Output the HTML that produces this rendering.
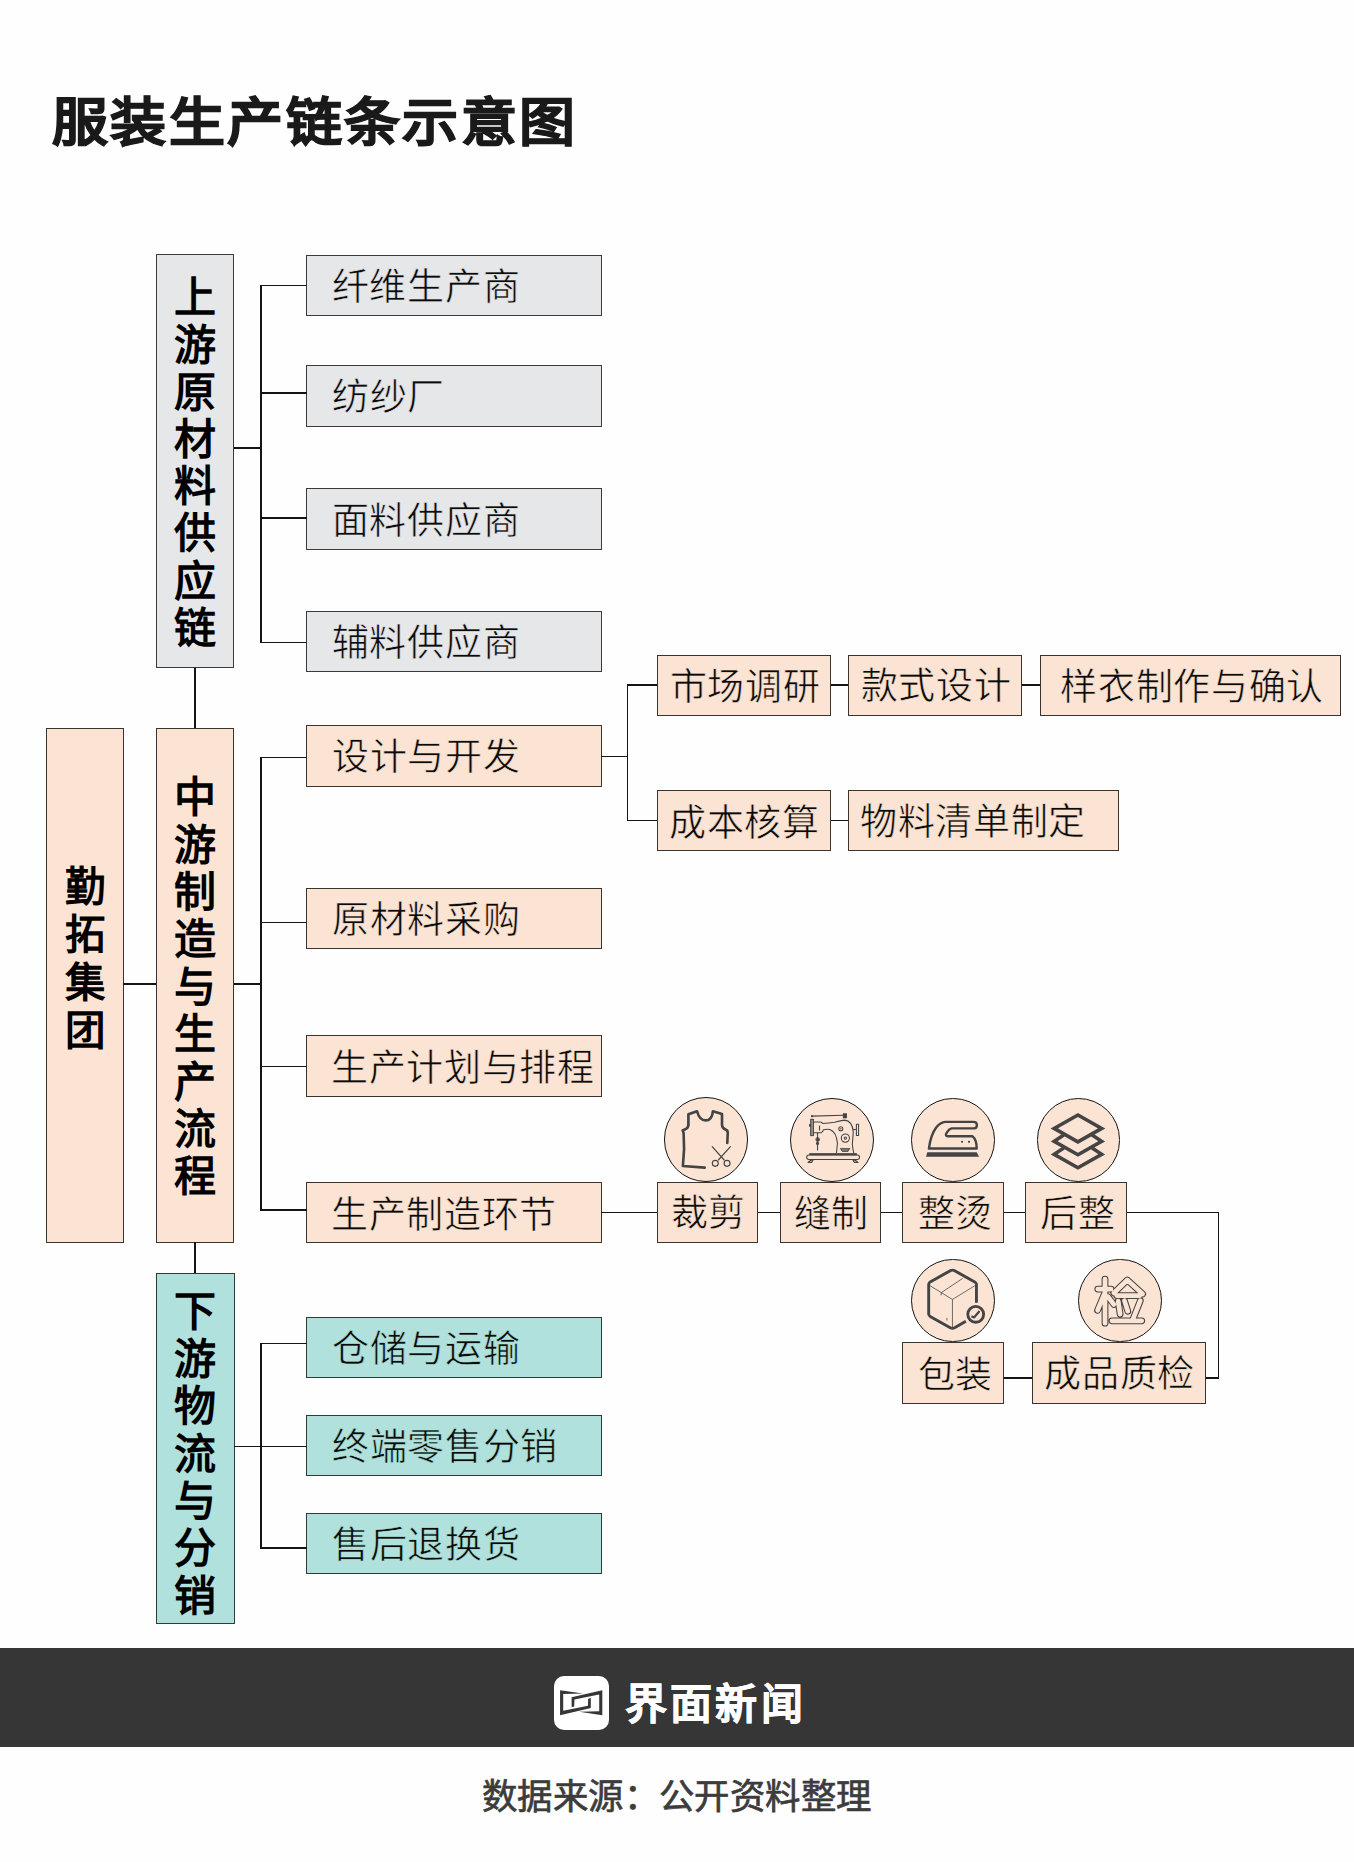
<!DOCTYPE html>
<html lang="zh-CN">
<head>
<meta charset="utf-8">
<style>
html,body{margin:0;padding:0;}
body{width:1354px;height:1862px;background:#fefefe;position:relative;overflow:hidden;font-family:"Liberation Sans",sans-serif;}
.bx{position:absolute;box-sizing:border-box;border:1.3px solid #3a3a3a;}
.ln{position:absolute;}
.title{position:absolute;white-space:nowrap;font-weight:700;line-height:80px;letter-spacing:2.4px;color:#1a1a1a;-webkit-text-stroke:1.1px #1a1a1a;transform:scaleY(0.942);transform-origin:0 67px;}
.it{position:absolute;white-space:nowrap;font-weight:400;line-height:60px;color:#0a0a0a;}
.vt{position:absolute;width:80px;text-align:center;font-weight:700;white-space:nowrap;}
.ci{position:absolute;box-sizing:border-box;border:1.4px solid #141414;border-radius:50%;background:#fce4d4;}
.ic{position:absolute;overflow:visible;}
.ban{position:absolute;left:0;top:1647.7px;width:1354px;height:99.8px;background:#363636;}
.logo{position:absolute;left:554.1px;top:1675.5px;width:54.5px;height:54.5px;background:#fff;border-radius:10px;}
.brand{position:absolute;white-space:nowrap;font-weight:700;line-height:60px;color:#fff;-webkit-text-stroke:0.6px #fff;}
.foot{position:absolute;white-space:nowrap;font-weight:400;line-height:50px;letter-spacing:0.4px;color:#3c3c3c;-webkit-text-stroke:0.7px #3c3c3c;}
</style>
</head>
<body>
<div id="title" class="title" style="left:52.00px;top:82.00px;font-size:56.00px;">服装生产链条示意图</div>
<div class="bx" style="left:155.80px;top:254.40px;width:78.40px;height:413.70px;background:#e6e7e9;border-color:#3a3a3a;"></div>
<div id="v_up" class="vt" style="left:155.00px;top:274.36px;font-size:42.00px;line-height:47.2px;color:#000;">上<br>游<br>原<br>材<br>料<br>供<br>应<br>链</div>
<div class="bx" style="left:306.40px;top:254.50px;width:295.20px;height:61.50px;background:#e6e7e9;border-color:#3a3a3a;"></div>
<div class="bx" style="left:306.40px;top:364.90px;width:295.20px;height:61.70px;background:#e6e7e9;border-color:#3a3a3a;"></div>
<div class="bx" style="left:306.40px;top:487.70px;width:295.20px;height:61.90px;background:#e6e7e9;border-color:#3a3a3a;"></div>
<div class="bx" style="left:306.40px;top:610.80px;width:295.20px;height:61.40px;background:#e6e7e9;border-color:#3a3a3a;"></div>
<div class="ln" style="left:233.60px;top:447.45px;width:27.20px;height:1.5px;background:#141414;"></div>
<div class="ln" style="left:260.05px;top:284.55px;width:1.5px;height:358.80px;background:#141414;"></div>
<div class="ln" style="left:260.80px;top:284.55px;width:46.20px;height:1.5px;background:#141414;"></div>
<div class="ln" style="left:260.80px;top:392.45px;width:46.20px;height:1.5px;background:#141414;"></div>
<div class="ln" style="left:260.80px;top:517.15px;width:46.20px;height:1.5px;background:#141414;"></div>
<div class="ln" style="left:260.80px;top:641.85px;width:46.20px;height:1.5px;background:#141414;"></div>
<div id="up0" class="it" style="left:331.75px;top:257.90px;font-size:37.00px;letter-spacing:0.7px;-webkit-text-stroke:0.6px #e6e7e9;">纤维生产商</div>
<div id="up1" class="it" style="left:332.00px;top:368.40px;font-size:37.00px;letter-spacing:0.7px;-webkit-text-stroke:0.6px #e6e7e9;">纺纱厂</div>
<div id="up2" class="it" style="left:331.75px;top:491.80px;font-size:37.00px;letter-spacing:0.7px;-webkit-text-stroke:0.6px #e6e7e9;">面料供应商</div>
<div id="up3" class="it" style="left:331.75px;top:613.90px;font-size:37.00px;letter-spacing:0.7px;-webkit-text-stroke:0.6px #e6e7e9;">辅料供应商</div>
<div class="ln" style="left:194.45px;top:667.50px;width:1.5px;height:61.00px;background:#141414;"></div>
<div class="bx" style="left:45.60px;top:727.90px;width:78.40px;height:514.70px;background:#fce4d4;border-color:#3b342e;"></div>
<div id="v_grp" class="vt" style="left:44.80px;top:863.49px;font-size:40.50px;line-height:48px;color:#000;">勤<br>拓<br>集<br>团</div>
<div class="ln" style="left:123.40px;top:983.45px;width:33.00px;height:1.5px;background:#141414;"></div>
<div class="bx" style="left:155.80px;top:727.90px;width:78.30px;height:514.70px;background:#fce4d4;border-color:#3b342e;"></div>
<div id="v_mid" class="vt" style="left:155.00px;top:774.16px;font-size:42.00px;line-height:47.4px;color:#000;">中<br>游<br>制<br>造<br>与<br>生<br>产<br>流<br>程</div>
<div class="ln" style="left:233.50px;top:983.45px;width:27.30px;height:1.5px;background:#141414;"></div>
<div class="ln" style="left:260.05px;top:756.85px;width:1.5px;height:454.10px;background:#141414;"></div>
<div class="bx" style="left:306.40px;top:725.10px;width:295.20px;height:61.80px;background:#fce4d4;border-color:#3b342e;"></div>
<div class="ln" style="left:260.80px;top:756.85px;width:46.20px;height:1.5px;background:#141414;"></div>
<div class="bx" style="left:306.40px;top:887.90px;width:295.20px;height:61.30px;background:#fce4d4;border-color:#3b342e;"></div>
<div class="ln" style="left:260.80px;top:921.95px;width:46.20px;height:1.5px;background:#141414;"></div>
<div class="bx" style="left:306.40px;top:1035.40px;width:295.20px;height:61.80px;background:#fce4d4;border-color:#3b342e;"></div>
<div class="ln" style="left:260.80px;top:1065.65px;width:46.20px;height:1.5px;background:#141414;"></div>
<div class="bx" style="left:306.40px;top:1182.00px;width:295.20px;height:60.90px;background:#fce4d4;border-color:#3b342e;"></div>
<div class="ln" style="left:260.80px;top:1209.45px;width:46.20px;height:1.5px;background:#141414;"></div>
<div id="mid0" class="it" style="left:332.00px;top:728.40px;font-size:37.00px;letter-spacing:0.7px;-webkit-text-stroke:0.6px #fce4d4;">设计与开发</div>
<div id="mid1" class="it" style="left:332.00px;top:891.20px;font-size:37.00px;letter-spacing:0.7px;-webkit-text-stroke:0.6px #fce4d4;">原材料采购</div>
<div id="mid2" class="it" style="left:331.00px;top:1039.20px;font-size:37.00px;letter-spacing:0.7px;-webkit-text-stroke:0.6px #fce4d4;">生产计划与排程</div>
<div id="mid3" class="it" style="left:331.00px;top:1185.60px;font-size:37.00px;letter-spacing:0.7px;-webkit-text-stroke:0.6px #fce4d4;">生产制造环节</div>
<div class="ln" style="left:601.00px;top:755.85px;width:26.70px;height:1.5px;background:#141414;"></div>
<div class="ln" style="left:626.95px;top:684.45px;width:1.5px;height:136.70px;background:#141414;"></div>
<div class="ln" style="left:627.70px;top:684.45px;width:29.70px;height:1.5px;background:#141414;"></div>
<div class="ln" style="left:627.70px;top:819.65px;width:29.40px;height:1.5px;background:#141414;"></div>
<div class="ln" style="left:830.30px;top:684.45px;width:18.40px;height:1.5px;background:#141414;"></div>
<div class="ln" style="left:1021.70px;top:684.45px;width:18.50px;height:1.5px;background:#141414;"></div>
<div class="ln" style="left:830.40px;top:819.65px;width:18.40px;height:1.5px;background:#141414;"></div>
<div class="bx" style="left:656.80px;top:654.50px;width:174.10px;height:61.30px;background:#fce4d4;border-color:#3b342e;"></div>
<div class="bx" style="left:848.10px;top:654.70px;width:174.20px;height:61.10px;background:#fce4d4;border-color:#3b342e;"></div>
<div class="bx" style="left:1039.60px;top:654.70px;width:301.70px;height:61.10px;background:#fce4d4;border-color:#3b342e;"></div>
<div class="bx" style="left:656.50px;top:789.70px;width:174.50px;height:61.70px;background:#fce4d4;border-color:#3b342e;"></div>
<div class="bx" style="left:848.20px;top:789.80px;width:270.40px;height:61.70px;background:#fce4d4;border-color:#3b342e;"></div>
<div id="s0" class="it" style="left:669.60px;top:657.80px;font-size:37.00px;letter-spacing:0.7px;-webkit-text-stroke:0.6px #fce4d4;">市场调研</div>
<div id="s1" class="it" style="left:860.60px;top:657.40px;font-size:37.00px;letter-spacing:0.7px;-webkit-text-stroke:0.6px #fce4d4;">款式设计</div>
<div id="s2" class="it" style="left:1060.30px;top:657.90px;font-size:37.00px;letter-spacing:0.7px;-webkit-text-stroke:0.6px #fce4d4;">样衣制作与确认</div>
<div id="s3" class="it" style="left:669.10px;top:793.70px;font-size:37.00px;letter-spacing:0.7px;-webkit-text-stroke:0.6px #fce4d4;">成本核算</div>
<div id="s4" class="it" style="left:860.00px;top:793.30px;font-size:37.00px;letter-spacing:0.7px;-webkit-text-stroke:0.6px #fce4d4;">物料清单制定</div>
<div class="ln" style="left:601.00px;top:1211.75px;width:56.60px;height:1.5px;background:#141414;"></div>
<div class="ln" style="left:757.30px;top:1211.75px;width:22.80px;height:1.5px;background:#141414;"></div>
<div class="ln" style="left:880.30px;top:1211.75px;width:22.40px;height:1.5px;background:#141414;"></div>
<div class="ln" style="left:1003.30px;top:1211.75px;width:22.70px;height:1.5px;background:#141414;"></div>
<div class="ln" style="left:1126.00px;top:1211.85px;width:93.35px;height:1.5px;background:#141414;"></div>
<div class="ln" style="left:1217.85px;top:1211.85px;width:1.5px;height:166.70px;background:#141414;"></div>
<div class="ln" style="left:1205.30px;top:1377.05px;width:13.30px;height:1.5px;background:#141414;"></div>
<div class="ln" style="left:1003.20px;top:1377.05px;width:29.00px;height:1.5px;background:#141414;"></div>
<div class="bx" style="left:657.00px;top:1181.60px;width:100.90px;height:61.00px;background:#fce4d4;border-color:#3b342e;"></div>
<div class="bx" style="left:779.50px;top:1181.60px;width:101.40px;height:61.00px;background:#fce4d4;border-color:#3b342e;"></div>
<div class="bx" style="left:902.10px;top:1181.50px;width:101.80px;height:61.50px;background:#fce4d4;border-color:#3b342e;"></div>
<div class="bx" style="left:1025.40px;top:1181.50px;width:101.20px;height:61.50px;background:#fce4d4;border-color:#3b342e;"></div>
<div class="bx" style="left:902.30px;top:1341.50px;width:101.50px;height:62.00px;background:#fce4d4;border-color:#3b342e;"></div>
<div class="bx" style="left:1031.60px;top:1341.50px;width:174.30px;height:62.00px;background:#fce4d4;border-color:#3b342e;"></div>
<div id="p0" class="it" style="left:670.80px;top:1184.30px;font-size:37.00px;letter-spacing:0.7px;-webkit-text-stroke:0.6px #fce4d4;">裁剪</div>
<div id="p1" class="it" style="left:793.65px;top:1184.80px;font-size:37.00px;letter-spacing:0.7px;-webkit-text-stroke:0.6px #fce4d4;">缝制</div>
<div id="p2" class="it" style="left:917.70px;top:1185.20px;font-size:37.00px;letter-spacing:0.7px;-webkit-text-stroke:0.6px #fce4d4;">整烫</div>
<div id="p3" class="it" style="left:1040.40px;top:1184.70px;font-size:37.00px;letter-spacing:0.7px;-webkit-text-stroke:0.6px #fce4d4;">后整</div>
<div id="p4" class="it" style="left:917.55px;top:1345.70px;font-size:37.00px;letter-spacing:0.7px;-webkit-text-stroke:0.6px #fce4d4;">包装</div>
<div id="p5" class="it" style="left:1044.40px;top:1345.20px;font-size:37.00px;letter-spacing:0.7px;-webkit-text-stroke:0.6px #fce4d4;">成品质检</div>
<div class="ci" style="left:664.20px;top:1097.40px;width:84.2px;height:84.2px;"></div>
<div class="ci" style="left:790.00px;top:1098.10px;width:84.2px;height:84.2px;"></div>
<div class="ci" style="left:911.45px;top:1098.45px;width:83.5px;height:83.5px;"></div>
<div class="ci" style="left:1036.50px;top:1098.40px;width:83.6px;height:83.6px;"></div>
<div class="ci" style="left:911.35px;top:1258.65px;width:83.7px;height:83.7px;"></div>
<div class="ci" style="left:1078.20px;top:1258.80px;width:83.4px;height:83.4px;"></div>
<svg class="ic" style="left:674px;top:1106px;width:65px;height:65px;" viewBox="0 0 1354 1354"><path d="M640,1285 L185,1250 L210,900 L200,560 L180,510 L260,470 Q310,430 300,350 L300,170 L480,110 Q530,300 660,300 Q790,300 810,110 L1000,165 L1000,400 Q1010,470 1110,510 L1120,560 L1110,770" fill="none" stroke="#444" stroke-width="55" stroke-linecap="round" stroke-linejoin="round"/><g fill="none" stroke="#444" stroke-width="24"><path d="M790,840 L1050,1130 M1180,840 L920,1130"/><circle cx="860" cy="1195" r="62"/><circle cx="1105" cy="1195" r="62"/></g></svg>
<svg class="ic" style="left:800px;top:1105px;width:65px;height:65px;" viewBox="0 0 1354 1354"><g fill="none" stroke="#444" stroke-width="22" stroke-linejoin="round" stroke-linecap="round"><path d="M250,232 L900,212"/><path d="M280,355 L430,355 Q455,360 470,385 Q600,380 720,360 Q850,320 930,315 Q1090,330 1110,560 Q1100,700 1090,820 Q1100,920 1120,1000"/><path d="M280,580 L440,580 Q470,560 490,515 Q560,500 620,510 Q760,560 780,800 Q770,900 760,1000"/><path d="M1110,510 L1175,510"/><rect x="1175" y="400" width="45" height="235"/><circle cx="850" cy="495" r="42"/><circle cx="945" cy="690" r="85"/><circle cx="945" cy="690" r="25"/><path d="M365,590 L365,935"/><circle cx="368" cy="720" r="36"/><circle cx="365" cy="800" r="22"/><rect x="140" y="1040" width="1100" height="95" rx="45"/><path d="M165,1195 L230,1145 L270,1150 L245,1195 Z M1210,1195 L1145,1145 L1105,1150 L1130,1195 Z"/></g><g fill="#444"><circle cx="250" cy="232" r="22"/><rect x="893" y="172" width="85" height="105"/><rect x="222" y="298" width="58" height="340" fill="#958c86" stroke="#444" stroke-width="20"/><circle cx="850" cy="495" r="14"/><path d="M370,680 L405,720 L370,760 L335,720 Z"/><rect x="188" y="398" width="38" height="54"/><rect x="396" y="428" width="22" height="105"/><path d="M840,905 L1040,905 L1000,968 L880,968 Z" fill="#7a7470" stroke="#444" stroke-width="16"/><rect x="195" y="1003" width="990" height="45"/></g></svg>
<svg class="ic" style="left:921px;top:1108px;width:65px;height:65px;" viewBox="0 0 1354 1354"><path d="M165,845 L1160,845 Q1160,660 1075,590 L555,590 Q490,580 540,510 Q590,430 640,425 L1110,425 Q1165,420 1165,355 Q1160,290 1100,290 L510,290 Q400,300 320,400 Q200,560 165,845 Z" fill="none" stroke="#444" stroke-width="50" stroke-linejoin="round"/><circle cx="855" cy="705" r="22" fill="#444"/><circle cx="1000" cy="705" r="22" fill="#444"/><path d="M130,920 L1160,920 L1210,1015 L105,1015 Z" fill="#444"/></svg>
<svg class="ic" style="left:1046px;top:1108px;width:65px;height:65px;" viewBox="0 0 1354 1354"><g fill="none" stroke="#444" stroke-width="75" stroke-linejoin="miter"><path d="M665,145 L1160,425 L665,705 L170,425 Z"/><path d="M370,560 L170,695 L665,975 L1160,695 L960,560"/><path d="M370,835 L170,965 L665,1245 L1160,965 L960,835"/></g></svg>
<svg class="ic" style="left:921px;top:1268px;width:65px;height:65px;" viewBox="0 0 1354 1354"><path d="M1155,725 L1155,335 Q1150,310 1120,290 L700,55 Q655,35 610,55 L190,290 Q160,310 160,345 L160,960 Q165,995 200,1015 L610,1245 Q655,1265 700,1245 L935,1110" fill="none" stroke="#444" stroke-width="60" stroke-linejoin="round"/><g fill="none" stroke="#444" stroke-width="16"><path d="M190,370 L655,655 L1120,370 M655,655 L655,1240 M420,515 L870,215 M420,515 L420,570 M540,1040 L540,1095"/></g><circle cx="1140" cy="965" r="165" fill="none" stroke="#444" stroke-width="60"/><path d="M1050,1005 L1105,1030 L1220,895" fill="none" stroke="#444" stroke-width="45" stroke-linejoin="round"/></svg>
<svg class="ic" style="left:1087px;top:1268px;width:65px;height:65px;" viewBox="0 0 1354 1354"><path d="M375,230 L375,1150 M225,440 L500,440 M370,520 L220,880 M440,600 L560,760 M560,520 L840,250 L1160,540 M620,575 L1100,575 M650,690 L690,960 M780,680 L850,900 M1110,680 L960,1060 M520,1100 L1140,1100" fill="none" stroke="#444" stroke-width="142" stroke-linecap="round" stroke-linejoin="round"/><path d="M375,230 L375,1150 M225,440 L500,440 M370,520 L220,880 M440,600 L560,760 M560,520 L840,250 L1160,540 M620,575 L1100,575 M650,690 L690,960 M780,680 L850,900 M1110,680 L960,1060 M520,1100 L1140,1100" fill="none" stroke="#fce4d4" stroke-width="98" stroke-linecap="round" stroke-linejoin="round"/></svg>
<div class="ln" style="left:194.25px;top:1242.00px;width:1.5px;height:32.00px;background:#141414;"></div>
<div class="bx" style="left:156.10px;top:1273.40px;width:78.50px;height:350.70px;background:#b0e1dc;border-color:#2f3a39;"></div>
<div id="v_down" class="vt" style="left:155.30px;top:1288.36px;font-size:42.00px;line-height:47.4px;color:#000;">下<br>游<br>物<br>流<br>与<br>分<br>销</div>
<div class="ln" style="left:234.00px;top:1445.85px;width:26.80px;height:1.5px;background:#141414;"></div>
<div class="ln" style="left:260.05px;top:1342.85px;width:1.5px;height:205.70px;background:#141414;"></div>
<div class="bx" style="left:306.40px;top:1317.00px;width:295.20px;height:61.40px;background:#b0e1dc;border-color:#2f3a39;"></div>
<div class="ln" style="left:260.80px;top:1342.85px;width:46.20px;height:1.5px;background:#141414;"></div>
<div class="bx" style="left:306.40px;top:1414.90px;width:295.20px;height:61.30px;background:#b0e1dc;border-color:#2f3a39;"></div>
<div class="ln" style="left:260.80px;top:1445.85px;width:46.20px;height:1.5px;background:#141414;"></div>
<div class="bx" style="left:306.40px;top:1512.90px;width:295.20px;height:61.40px;background:#b0e1dc;border-color:#2f3a39;"></div>
<div class="ln" style="left:260.80px;top:1547.05px;width:46.20px;height:1.5px;background:#141414;"></div>
<div id="dn0" class="it" style="left:332.00px;top:1319.60px;font-size:37.00px;letter-spacing:0.7px;-webkit-text-stroke:0.6px #b0e1dc;">仓储与运输</div>
<div id="dn1" class="it" style="left:332.00px;top:1418.20px;font-size:37.00px;letter-spacing:0.7px;-webkit-text-stroke:0.6px #b0e1dc;">终端零售分销</div>
<div id="dn2" class="it" style="left:332.00px;top:1516.00px;font-size:37.00px;letter-spacing:0.7px;-webkit-text-stroke:0.6px #b0e1dc;">售后退换货</div>
<div class="ban"></div>
<div class="logo"></div>
<svg class="ic" style="left:550px;top:1670px;width:65px;height:65px;" viewBox="0 0 1354 1354"><g fill="#363636"><path d="M210,420 L690,488 L275,500 L275,850 L790,745 L795,600 L850,585 L850,790 L210,940 Z"/><path d="M1090,940 L610,872 L1025,860 L1025,510 L510,615 L505,760 L450,775 L450,570 L1090,420 Z"/></g></svg>
<div id="brand" class="brand" style="left:624.80px;top:1675.00px;font-size:42.00px;letter-spacing:3.3px;">界面新闻</div>
<div id="foot" class="foot" style="left:482.00px;top:1772.20px;font-size:35.40px;">数据来源：公开资料整理</div>
</body>
</html>
